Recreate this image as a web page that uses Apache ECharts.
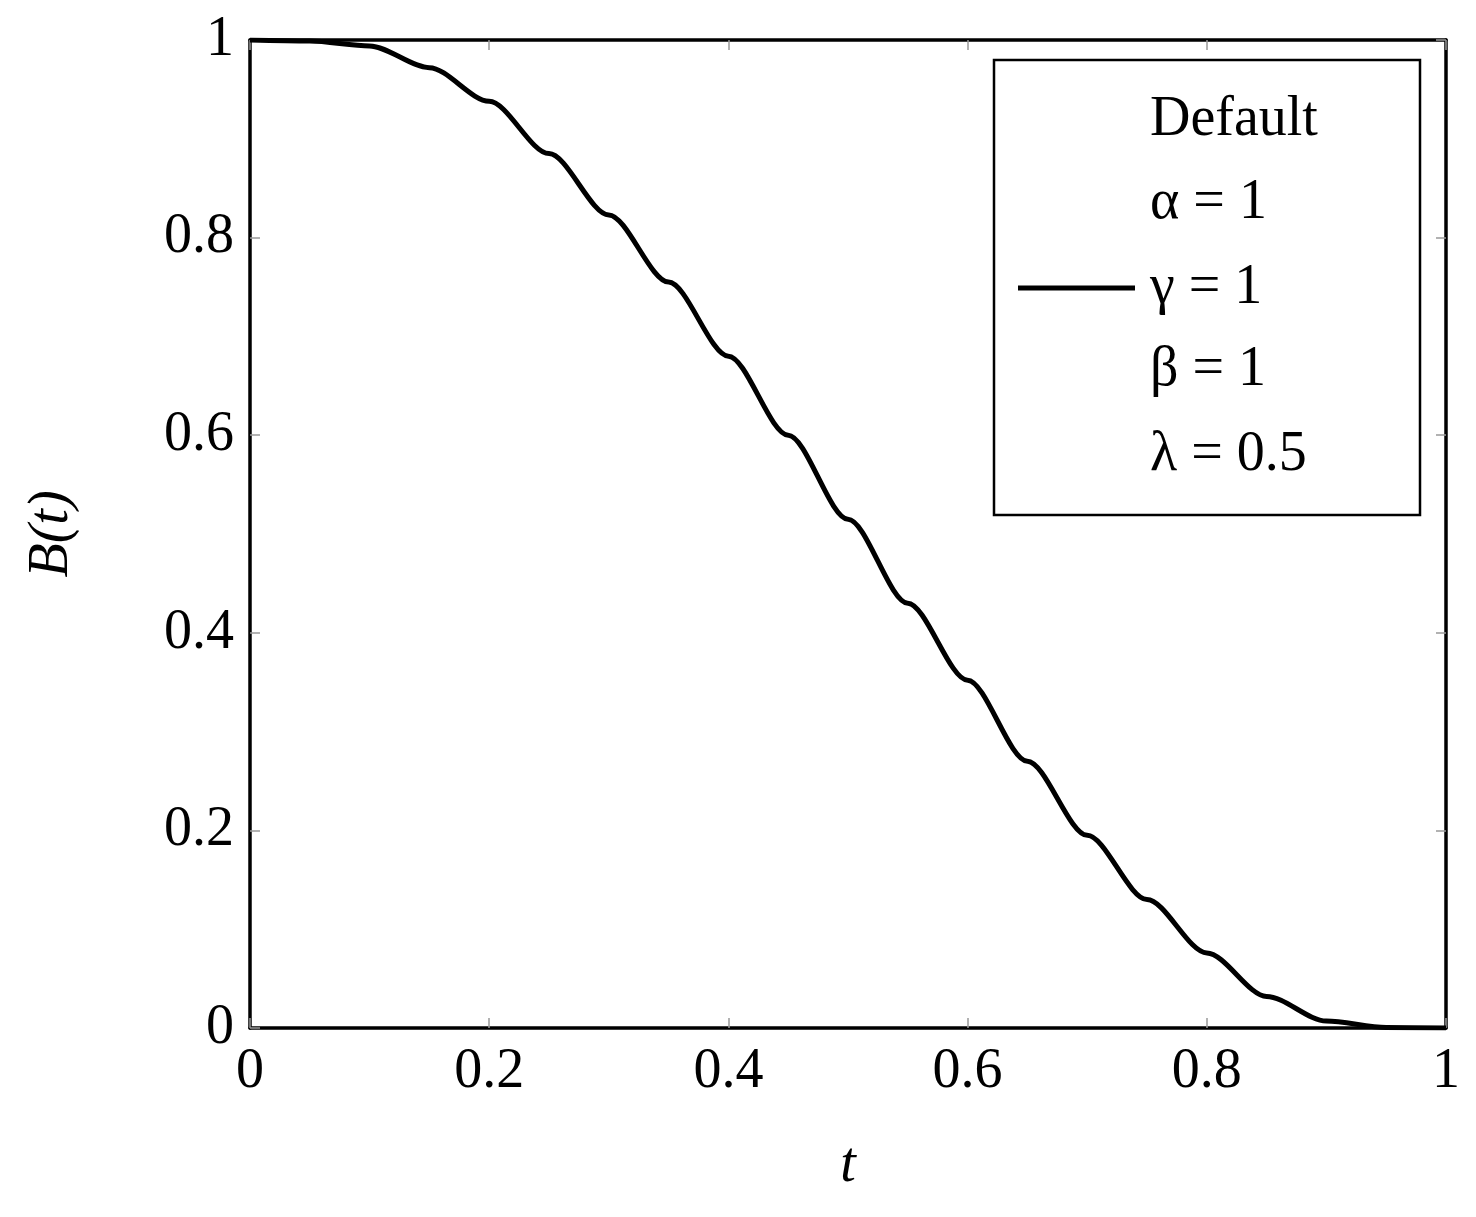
<!DOCTYPE html><html><head><meta charset="utf-8"><script src="https://cdn.jsdelivr.net/npm/echarts@6/dist/echarts.min.js"></script></head><body style="margin:0"><div id="c" style="width:1476px;height:1217px"></div><script>
const tValues=[0,0.05,0.1,0.15,0.2,0.25,0.3,0.35,0.4,0.45,0.5,0.55,0.6,0.65,0.7,0.75,0.8,0.85,0.9,0.95,1];
const bValues=[1,0.999,0.994,0.972,0.938,0.885,0.823,0.755,0.68,0.6,0.515,0.43,0.352,0.27,0.195,0.13,0.076,0.032,0.007,0.0005,0];
const legendLines=['Default','α = 1','γ = 1','β = 1','λ = 0.5'];
const F='"Liberation Serif", "DejaVu Serif", serif';
const ax=(pos,show)=>({type:'value',min:0,max:1,interval:0.2,position:pos,
 axisLine:{show:true,onZero:false,lineStyle:{color:'#000',width:3.5}},
 axisTick:{show:true,inside:true,length:10,lineStyle:{color:'#999',width:1.5}},
 splitLine:{show:false},
 axisLabel:{show:show,color:'#000',fontFamily:F,fontSize:56,margin:16,formatter:v=>String(+v.toFixed(1))}});
const x1=ax('bottom',true);x1.name='t';x1.nameLocation='middle';x1.nameGap=110;x1.nameTextStyle={fontFamily:F,fontStyle:'italic',fontSize:56,color:'#000'};
const y1=ax('left',true);y1.name='B(t)';y1.nameLocation='middle';y1.nameGap=170;y1.nameTextStyle={fontFamily:F,fontStyle:'italic',fontSize:56,color:'#000'};
const ys=[120,203,288,370,455];
const g=[{type:'rect',shape:{x:994,y:60,width:426,height:455},style:{fill:'#fff',stroke:'#000',lineWidth:2.5},z:10},
 {type:'line',shape:{x1:1018,y1:288,x2:1135,y2:288},style:{stroke:'#000',lineWidth:5},z:11}];
legendLines.forEach((s,i)=>g.push({type:'text',x:1150,y:ys[i],style:{text:s,font:'56px '+F,fill:'#000',verticalAlign:'middle'},z:11}));
const ch=echarts.init(document.getElementById('c'));
ch.setOption({animation:false,backgroundColor:'#fff',
 grid:{left:250,right:30,top:40,bottom:189},
 xAxis:[x1,ax('top',false)],yAxis:[y1,ax('right',false)],
 graphic:g,
 series:[{name:'Default',type:'line',showSymbol:false,smooth:0.3,smoothMonotone:'x',data:tValues.map((t,i)=>[t,bValues[i]]),lineStyle:{color:'#000',width:5},itemStyle:{color:'#000'}}]});
</script></body></html>
